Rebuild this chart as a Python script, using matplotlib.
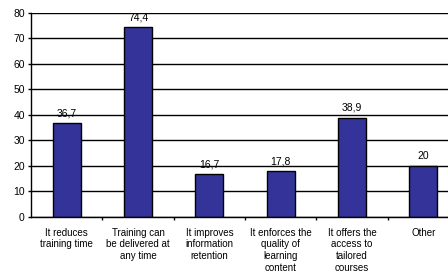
import matplotlib.pyplot as plt
import numpy as np

categories = ['It reduces\ntraining time',
              'Training can\nbe delivered at\nany time',
              'It improves\ninformation\nretention',
              'It enforces the\nquality of\nlearning\ncontent',
              'It offers the\naccess to\ntailored\ncourses',
              'Other']
values = [36.7, 74.4, 16.7, 17.8, 38.9, 20]
value_labels = ['36,7', '74,4', '16,7', '17,8', '38,9', '20']
yticks = [0, 10, 20, 30, 40, 50, 60, 70, 80]

plt.rcParams['font.family'] = ['Liberation Sans', 'DejaVu Sans']

fig = plt.figure(figsize=(4.48, 2.74), dpi=100)
ax = fig.add_axes([31/448, 57.3/274, 428/448, 203.7/274])

x = np.arange(len(categories))
ax.set_axisbelow(True)
for t in yticks:
    ax.axhline(t, color='black', lw=1.0, zorder=0)
ax.bar(x, values, width=0.39, color='#333399', edgecolor='black', lw=1.0, zorder=2)

for xi, v, lab in zip(x, values, value_labels):
    ax.annotate(lab, (xi, v), xytext=(0, 3.5), textcoords='offset points',
                ha='center', va='bottom', fontsize=7.5, clip_on=False)

ax.set_xlim(-0.5, 5.5)
ax.set_ylim(0, 80)
ax.set_yticks(yticks)
ax.tick_params(axis='y', length=2.5, width=1, labelsize=7.5, pad=2)

ax.set_xticks(x[:-1] + 0.5)
ax.set_xticklabels([])
ax.tick_params(axis='x', which='major', length=2, width=1, direction='out')
ax.set_xticks(x, minor=True)
ax.set_xticklabels(categories, minor=True, fontsize=7, linespacing=1.2)
ax.tick_params(axis='x', which='minor', length=0, pad=8)

for s in ['top', 'right']:
    ax.spines[s].set_visible(False)
ax.spines['left'].set_linewidth(1)
ax.spines['bottom'].set_linewidth(1)

fig.savefig('out.png', dpi=100)
